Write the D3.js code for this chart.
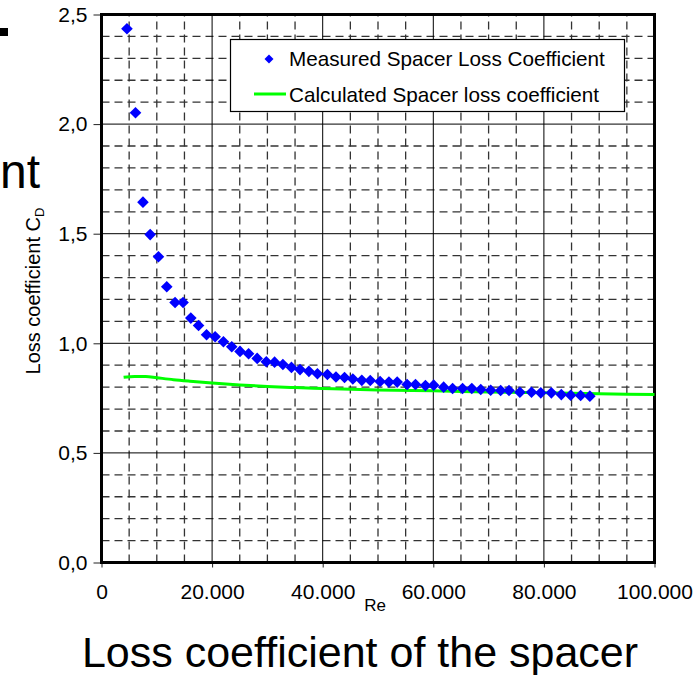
<!DOCTYPE html>
<html>
<head>
<meta charset="utf-8">
<script src="https://cdn.jsdelivr.net/npm/d3@7"></script>
<style>
  html, body { margin: 0; padding: 0; background: #fff; overflow: hidden; }
  svg { display: block; font-family: "Liberation Sans", Arial, sans-serif; }
</style>
</head>
<body>
<svg id="chart" width="695" height="675"></svg>
<script>
// ---- data ----
const measuredRe = [4600, 6150, 7500, 8800, 10300, 11800, 13300, 14750, 16150, 17550,
  19000, 20550, 22050, 23550, 25050, 26600, 28150, 29800, 31300, 32800,
  34350, 35900, 37500, 39050, 40850, 42400, 43950, 45450, 47070, 48600,
  50380, 51980, 53470, 55270, 56780, 58580, 60070, 61870, 63490, 65290,
  66960, 68580, 70380, 72180, 73690, 75660, 77760, 79440, 81350, 83150,
  84840, 86640, 88310];
const measuredCd = [2.435, 2.052, 1.644, 1.496, 1.395, 1.258, 1.186, 1.186, 1.115, 1.081,
  1.039, 1.030, 1.007, 0.984, 0.963, 0.952, 0.931, 0.916, 0.914, 0.903,
  0.890, 0.880, 0.872, 0.861, 0.858, 0.846, 0.844, 0.837, 0.831, 0.830,
  0.826, 0.823, 0.823, 0.812, 0.812, 0.807, 0.809, 0.800, 0.794, 0.794,
  0.794, 0.789, 0.786, 0.785, 0.785, 0.777, 0.777, 0.774, 0.774, 0.766,
  0.763, 0.762, 0.759];
const calcRe = [4000, 6000, 8000, 10000, 13000, 16000, 20000, 25000, 30000, 35000,
  40000, 50000, 60000, 70000, 80000, 90000, 100000];
const calcCd = [0.845, 0.849, 0.849, 0.843, 0.834, 0.827, 0.819, 0.810, 0.803, 0.798,
  0.794, 0.787, 0.783, 0.778, 0.774, 0.770, 0.766];
const xTickValues = [0, 20000, 40000, 60000, 80000, 100000];
const xTickLabels = ["0", "20.000", "40.000", "60.000", "80.000", "100.000"];
const yTickValues = [0, 0.5, 1.0, 1.5, 2.0, 2.5];
const yTickLabels = ["0,0", "0,5", "1,0", "1,5", "2,0", "2,5"];
const seriesNames = ["Measured Spacer Loss Coefficient", "Calculated Spacer loss coefficient"];

// ---- layout ----
const svg = d3.select("#chart");
const L = 101.5, R = 654.5, T = 14.5, B = 562.5;
const x = d3.scaleLinear().domain([0, 100000]).range([L, R]);
const y = d3.scaleLinear().domain([0, 2.5]).range([B, T]);

// slide fragments
svg.append("rect").attr("x", 0).attr("y", 28).attr("width", 8).attr("height", 8).attr("fill", "#000");
svg.append("text").attr("x", 0).attr("y", 188).attr("font-size", 48).attr("fill", "#000").text("nt");

// minor dashed grid
const minorX = d3.range(5000, 100000, 5000).filter(v => v % 20000 !== 0);
const minorY = d3.range(1, 25).map(i => i / 10).filter(v => Math.round(v * 10) % 5 !== 0);
const g = svg.append("g");
g.selectAll(".mx").data(minorX).join("line")
  .attr("x1", d => x(d)).attr("x2", d => x(d)).attr("y1", B).attr("y2", T)
  .attr("stroke", "#333").attr("stroke-width", 1.3).attr("stroke-dasharray", "8,5");
g.selectAll(".my").data(minorY).join("line")
  .attr("x1", L).attr("x2", R).attr("y1", d => y(d)).attr("y2", d => y(d))
  .attr("stroke", "#333").attr("stroke-width", 1.3).attr("stroke-dasharray", "8,5");
// major solid grid
g.selectAll(".MX").data(xTickValues.slice(1, -1)).join("line")
  .attr("x1", d => x(d)).attr("x2", d => x(d)).attr("y1", B).attr("y2", T)
  .attr("stroke", "#000").attr("stroke-width", 1);
g.selectAll(".MY").data(yTickValues.slice(1, -1)).join("line")
  .attr("x1", L).attr("x2", R).attr("y1", d => y(d)).attr("y2", d => y(d))
  .attr("stroke", "#000").attr("stroke-width", 1);

// axes
const xAxis = d3.axisBottom(x).tickValues(xTickValues)
  .tickFormat((d, i) => xTickLabels[i]).tickSize(5).tickPadding(17);
const yAxis = d3.axisLeft(y).tickValues(yTickValues)
  .tickFormat((d, i) => yTickLabels[i]).tickSize(8).tickPadding(6);
const gx = svg.append("g").attr("transform", `translate(0,${B})`).call(xAxis);
const gy = svg.append("g").attr("transform", `translate(${L},0)`).call(yAxis);
[gx, gy].forEach(a => {
  a.select(".domain").remove();
  a.selectAll("line").attr("stroke", "#222").attr("stroke-width", 1);
  a.selectAll("text").attr("font-size", 21).attr("fill", "#000")
    .attr("font-family", "'Liberation Sans', Arial, sans-serif");
});

// frame
svg.append("rect").attr("x", L).attr("y", T).attr("width", R - L).attr("height", B - T)
  .attr("fill", "none").attr("stroke", "#000").attr("stroke-width", 3);

// calculated line
const line = d3.line().x((d, i) => x(calcRe[i])).y(d => y(d)).curve(d3.curveMonotoneX);
svg.append("path").datum(calcCd).attr("d", line)
  .attr("fill", "none").attr("stroke", "#00ff00").attr("stroke-width", 3);

// measured points
const diamond = r => `M0,${-r}L${r},0L0,${r}L${-r},0Z`;
svg.append("g").selectAll("path").data(measuredCd).join("path")
  .attr("transform", (d, i) => `translate(${x(measuredRe[i])},${y(d)})`)
  .attr("d", diamond(5.8)).attr("fill", "#0000ff");

// legend
const lg = svg.append("g");
lg.append("rect").attr("x", 230.5).attr("y", 39.5).attr("width", 394).attr("height", 72)
  .attr("fill", "#fff").attr("stroke", "#000").attr("stroke-width", 1.2);
lg.append("path").attr("transform", "translate(269,59)").attr("d", diamond(4.5)).attr("fill", "#0000ff");
lg.append("line").attr("x1", 254).attr("x2", 286).attr("y1", 94).attr("y2", 94)
  .attr("stroke", "#00ff00").attr("stroke-width", 3);
lg.selectAll("text").data(seriesNames).join("text")
  .attr("x", 289).attr("y", (d, i) => 66 + i * 36)
  .attr("font-size", 20.7).attr("fill", "#000").text(d => d);

// y-axis label
const yl = svg.append("text").attr("transform", "translate(40,291) rotate(-90)")
  .attr("text-anchor", "middle").attr("font-size", 20).attr("fill", "#000");
yl.append("tspan").text("Loss coefficient C");
yl.append("tspan").attr("font-size", 13).attr("dy", 4).text("D");

// x-axis label
svg.append("text").attr("x", 375).attr("y", 611).attr("text-anchor", "middle")
  .attr("font-size", 17).attr("fill", "#000").text("Re");

// slide caption
svg.append("text").attr("x", 360).attr("y", 667).attr("text-anchor", "middle")
  .attr("font-size", 43).attr("fill", "#000").text("Loss coefficient of the spacer");
</script>
</body>
</html>
